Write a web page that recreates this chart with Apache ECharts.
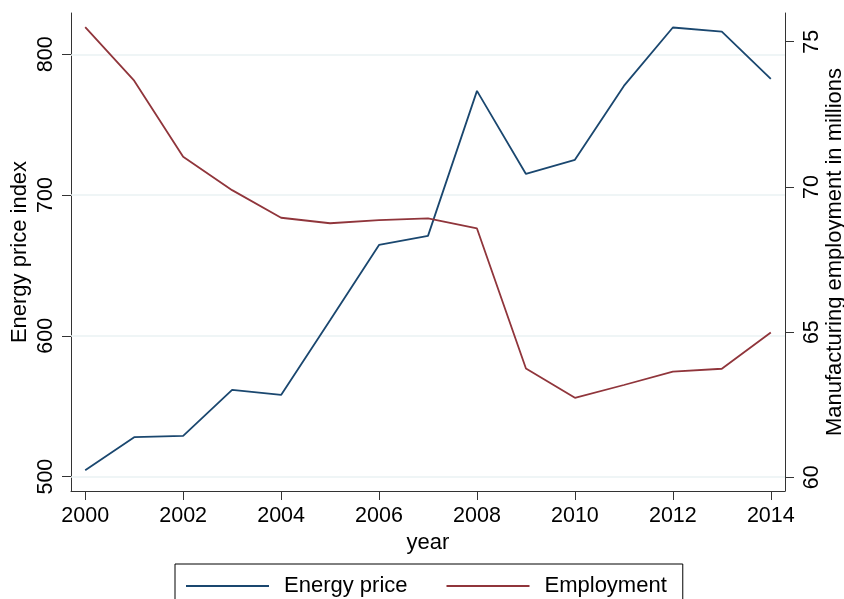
<!DOCTYPE html>
<html>
<head>
<meta charset="utf-8">
<script src="https://cdn.jsdelivr.net/npm/echarts@6/dist/echarts.min.js"></script>
<style>
    html, body { margin: 0; padding: 0; background: #fff; }
    #chart { width: 844px; height: 599px; }
</style>
</head>
<body>
<div id="chart"></div>
<script>
// data
const years = [2000, 2001, 2002, 2003, 2004, 2005, 2006, 2007, 2008, 2009, 2010, 2011, 2012, 2013, 2014];
const energyPrice = [504.5, 528, 529, 561.6, 558, 611, 664.6, 671, 774, 715, 725, 777.5, 819, 816, 782.5];
const employment = [75.5, 73.66, 71.04, 69.89, 68.94, 68.75, 68.86, 68.92, 68.57, 63.75, 62.74, 63.18, 63.64, 63.74, 64.99];

const xTicks = [2000, 2002, 2004, 2006, 2008, 2010, 2012, 2014];
const leftTicks = [500, 600, 700, 800];
const rightTicks = [60, 65, 70, 75];

const FONT = 'Liberation Sans, Arial, sans-serif';
const AXIS_COLOR = '#333';
const NAVY = '#1a476f';
const MAROON = '#90353b';

document.addEventListener('DOMContentLoaded', function() {
    const chart = echarts.init(document.getElementById('chart'));

    const tickText = { color: '#000', fontSize: 21.5, fontFamily: FONT };
    const titleText = { color: '#000', fontSize: 22, fontFamily: FONT };

    const option = {
        animation: false,
        backgroundColor: '#fff',
        textStyle: { fontFamily: FONT },
        grid: {
            left: 71,
            right: 59,
            top: 13,
            bottom: 108,
            outerBoundsMode: 'none'
        },
        legend: {
            left: 175,
            top: 564,
            orient: 'horizontal',
            itemWidth: 83,
            itemHeight: 14,
            itemGap: 38,
            padding: [11, 16, 30, 10],
            borderColor: '#000',
            borderWidth: 1,
            itemStyle: { opacity: 0 },
            textStyle: { color: '#000', fontSize: 22, fontFamily: FONT, padding: [0, 0, 0, 10] },
            data: ['Energy price', 'Employment']
        },
        xAxis: {
            type: 'value',
            min: 1999.71,
            max: 2014.29,
            name: 'year',
            nameLocation: 'middle',
            nameGap: 36,
            nameTextStyle: titleText,
            axisLine: { show: true, lineStyle: { color: AXIS_COLOR, width: 1 } },
            axisTick: { show: true, length: 9, customValues: xTicks, lineStyle: { color: AXIS_COLOR } },
            axisLabel: Object.assign({ margin: 14, customValues: xTicks, formatter: v => String(v) }, tickText),
            splitLine: { show: false }
        },
        yAxis: [
            {
                type: 'value',
                position: 'left',
                min: 489.8,
                max: 829.3,
                name: 'Energy price index',
                nameLocation: 'middle',
                nameGap: 40,
                nameMoveOverlap: false,
                nameTextStyle: titleText,
                axisLine: { show: true, lineStyle: { color: AXIS_COLOR, width: 1 } },
                axisTick: { show: true, length: 9, customValues: leftTicks, lineStyle: { color: AXIS_COLOR } },
                axisLabel: Object.assign({ margin: 14, rotate: 90, customValues: leftTicks, formatter: v => String(v) }, tickText),
                splitLine: { show: false }
            },
            {
                type: 'value',
                position: 'right',
                min: 59.53,
                max: 75.99,
                name: 'Manufacturing employment in millions',
                nameLocation: 'middle',
                nameGap: 39,
                nameMoveOverlap: false,
                nameTextStyle: titleText,
                axisLine: { show: true, lineStyle: { color: AXIS_COLOR, width: 1 } },
                axisTick: { show: true, length: 9, customValues: rightTicks, lineStyle: { color: AXIS_COLOR } },
                axisLabel: Object.assign({ margin: 16, rotate: 90, customValues: rightTicks, formatter: v => String(v) }, tickText),
                splitLine: { show: false }
            }
        ],
        series: [
            {
                name: 'Energy price',
                type: 'line',
                yAxisIndex: 0,
                data: years.map((y, i) => [y, energyPrice[i]]),
                showSymbol: false,
                symbol: 'none',
                lineStyle: { color: NAVY, width: 1.8 },
                itemStyle: { color: NAVY },
                z: 3,
                markLine: {
                    silent: true,
                    z: 1,
                    symbol: ['none', 'none'],
                    label: { show: false },
                    lineStyle: { color: '#eaf2f3', width: 1.5, type: 'solid' },
                    emphasis: { disabled: true },
                    data: leftTicks.map(v => ({ yAxis: v }))
                }
            },
            {
                name: 'Employment',
                type: 'line',
                yAxisIndex: 1,
                data: years.map((y, i) => [y, employment[i]]),
                showSymbol: false,
                symbol: 'none',
                lineStyle: { color: MAROON, width: 1.8 },
                itemStyle: { color: MAROON },
                z: 3
            }
        ]
    };

    chart.setOption(option);
});
</script>
</body>
</html>
